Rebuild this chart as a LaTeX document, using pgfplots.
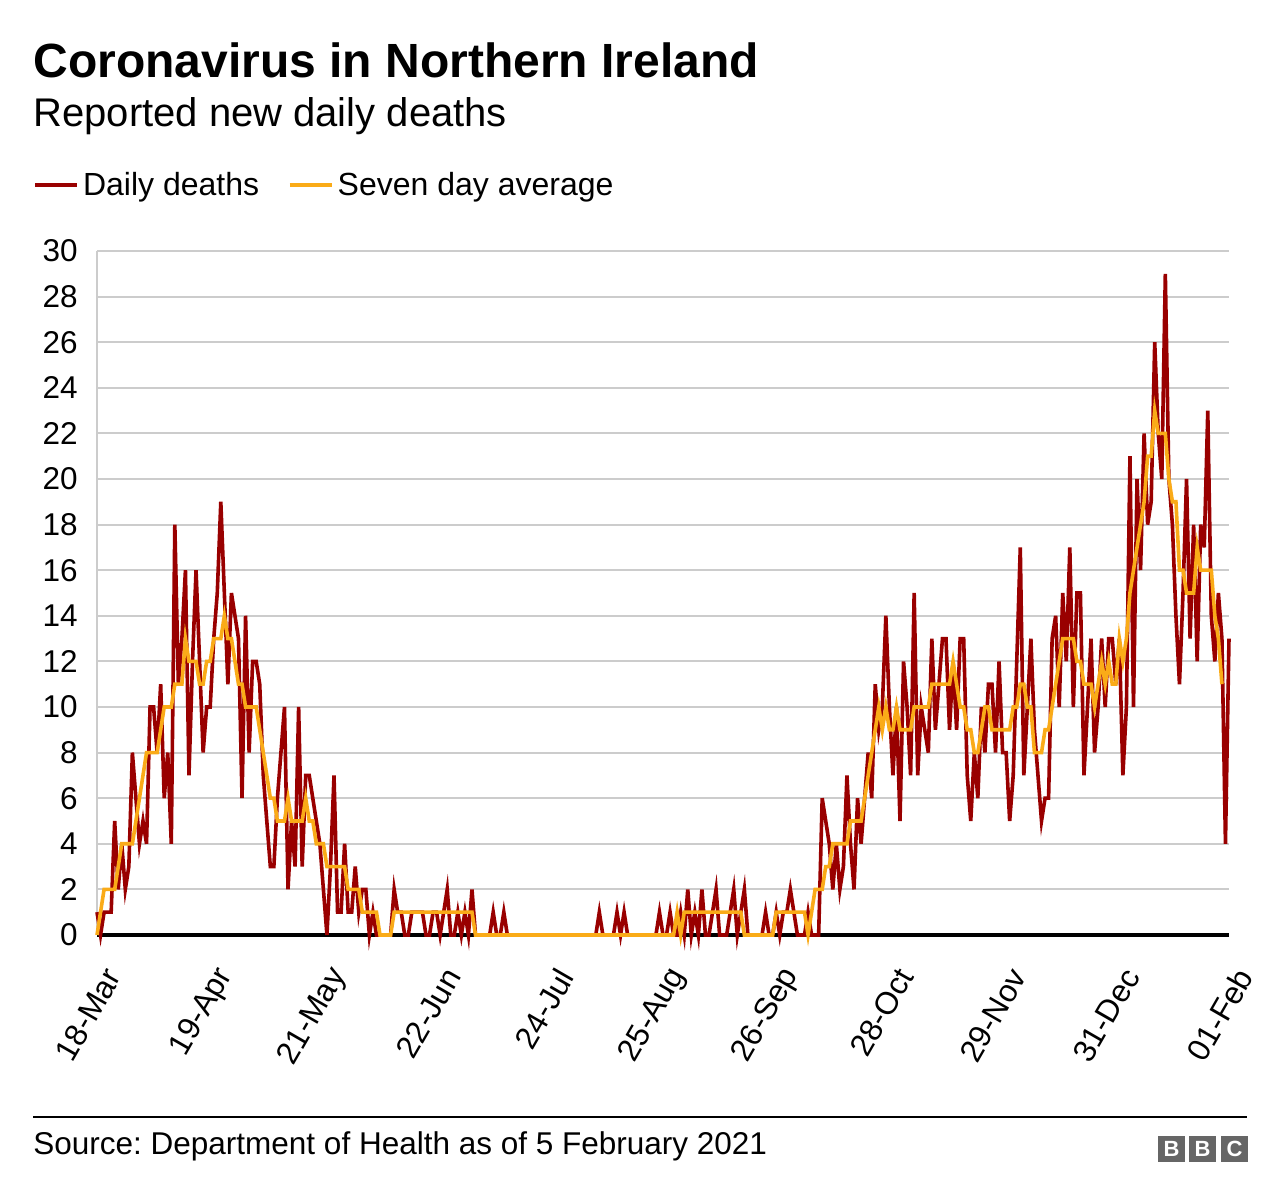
\documentclass[border=0pt]{standalone}
\usepackage{pgfplots}
\pgfplotsset{compat=1.18}
\usepackage{pgfplotstable}
\usepackage{fontspec}
\setmainfont{Liberation Sans}
\frenchspacing
\definecolor{bbcred}{RGB}{153,0,0}
\definecolor{bbcorange}{RGB}{250,171,24}
\definecolor{gridgray}{RGB}{204,204,204}
\definecolor{logogray}{RGB}{102,102,102}

% daily deaths, 18-Mar-2020 (index 0) to 01-Feb-2021 (index 320)
\pgfplotstableread[row sep=\\, header=false]{
1\\0\\1\\1\\1\\5\\2\\4\\2\\3\\
8\\6\\4\\5\\4\\10\\10\\8\\11\\6\\
8\\4\\18\\11\\13\\16\\7\\12\\16\\12\\
8\\10\\10\\13\\15\\19\\15\\11\\15\\14\\
13\\6\\14\\8\\12\\12\\11\\7\\5\\3\\
3\\6\\8\\10\\2\\5\\3\\10\\3\\7\\
7\\6\\5\\4\\2\\0\\3\\7\\1\\1\\
4\\1\\1\\3\\1\\2\\2\\0\\1\\0\\
0\\0\\0\\0\\2\\1\\1\\0\\0\\1\\
1\\1\\1\\0\\0\\1\\1\\0\\1\\2\\
0\\0\\1\\0\\1\\0\\2\\0\\0\\0\\
0\\0\\1\\0\\0\\1\\0\\0\\0\\0\\
0\\0\\0\\0\\0\\0\\0\\0\\0\\0\\
0\\0\\0\\0\\0\\0\\0\\0\\0\\0\\
0\\0\\1\\0\\0\\0\\0\\1\\0\\1\\
0\\0\\0\\0\\0\\0\\0\\0\\0\\1\\
0\\0\\1\\0\\0\\1\\0\\2\\0\\1\\
0\\2\\0\\0\\1\\2\\0\\0\\0\\1\\
2\\0\\1\\2\\0\\0\\0\\0\\0\\1\\
0\\0\\1\\0\\1\\1\\2\\1\\0\\0\\
0\\1\\0\\0\\0\\6\\5\\4\\2\\4\\
2\\3\\7\\4\\2\\6\\4\\6\\8\\6\\
11\\9\\10\\14\\10\\7\\10\\5\\12\\10\\
7\\15\\7\\10\\9\\8\\13\\9\\11\\13\\
13\\9\\12\\9\\13\\13\\7\\5\\8\\6\\
10\\8\\11\\11\\8\\12\\8\\8\\5\\7\\
12\\17\\7\\10\\13\\9\\7\\5\\6\\6\\
13\\14\\10\\15\\12\\17\\10\\15\\15\\7\\
10\\13\\8\\10\\13\\10\\13\\13\\11\\13\\
7\\10\\21\\10\\20\\16\\22\\18\\19\\26\\
22\\20\\29\\20\\18\\14\\11\\15\\20\\13\\
18\\12\\18\\17\\23\\14\\12\\15\\13\\4\\13\\
}\daily

% seven day average (index 0 to 318)
\pgfplotstableread[row sep=\\, header=false]{
0\\1\\2\\2\\2\\2\\3\\4\\4\\4\\
4\\5\\6\\7\\8\\8\\8\\8\\9\\10\\
10\\10\\11\\11\\11\\13\\12\\12\\12\\11\\
11\\12\\12\\13\\13\\13\\14\\13\\13\\12\\
11\\11\\10\\10\\10\\10\\9\\8\\7\\6\\
6\\5\\5\\5\\6\\5\\5\\5\\5\\6\\
5\\5\\4\\4\\4\\3\\3\\3\\3\\3\\
3\\2\\2\\2\\2\\1\\1\\1\\1\\1\\
0\\0\\0\\0\\1\\1\\1\\1\\1\\1\\
1\\1\\1\\1\\1\\1\\1\\1\\1\\1\\
1\\1\\1\\1\\1\\1\\1\\0\\0\\0\\
0\\0\\0\\0\\0\\0\\0\\0\\0\\0\\
0\\0\\0\\0\\0\\0\\0\\0\\0\\0\\
0\\0\\0\\0\\0\\0\\0\\0\\0\\0\\
0\\0\\0\\0\\0\\0\\0\\0\\0\\0\\
0\\0\\0\\0\\0\\0\\0\\0\\0\\0\\
0\\0\\0\\0\\1\\0\\1\\1\\1\\1\\
1\\1\\1\\1\\1\\1\\1\\1\\1\\1\\
1\\1\\1\\0\\0\\0\\0\\0\\0\\0\\
0\\0\\1\\1\\1\\1\\1\\1\\1\\1\\
1\\0\\1\\2\\2\\2\\3\\3\\4\\4\\
4\\4\\4\\5\\5\\5\\5\\6\\7\\8\\
9\\10\\9\\10\\9\\9\\10\\9\\9\\9\\
9\\10\\10\\10\\10\\10\\11\\11\\11\\11\\
11\\11\\12\\11\\10\\10\\9\\9\\8\\8\\
9\\10\\10\\9\\9\\9\\9\\9\\9\\10\\
10\\11\\11\\10\\10\\8\\8\\8\\9\\9\\
10\\11\\12\\13\\13\\13\\13\\12\\12\\11\\
11\\11\\10\\11\\12\\11\\12\\11\\11\\13\\
12\\13\\15\\16\\17\\18\\19\\21\\21\\23\\
22\\22\\22\\20\\19\\19\\16\\16\\15\\15\\
15\\17\\16\\16\\16\\16\\14\\13\\11\\
}\avg

\begin{document}
\begin{tikzpicture}
\useasboundingbox (0pt,0pt) rectangle (640pt,602pt);
\begin{axis}[
  at={(48.5pt,134.5pt)}, anchor=south west,
  scale only axis, width=566pt, height=342pt,
  xmin=0, xmax=320, ymin=0, ymax=30,
  clip=false,
  axis x line*=bottom, axis y line*=left,
  x axis line style={black, line width=1.75pt, -},
  y axis line style={gridgray, line width=1pt, -},
  xtick={0,32,...,320},
  xticklabels={18-Mar,19-Apr,21-May,22-Jun,24-Jul,25-Aug,26-Sep,28-Oct,29-Nov,31-Dec,01-Feb},
  ytick={0,2,...,30},
  ymajorgrids, major grid style={gridgray, line width=1pt},
  major tick length=0pt,
  tick label style={font=\fontsize{15.75pt}{19pt}\selectfont},
  /pgf/number format/assume math mode=true,
  yticklabel style={anchor=east, inner sep=0pt, xshift=-9.5pt},
  xticklabel style={xshift=8pt, yshift=-18pt, rotate=60, anchor=east, inner sep=0pt},
  legend columns=2,
  legend style={at={(axis description cs:-0.0565,1.0965)}, anchor=west,
    draw=none, fill=none, inner sep=0pt,
    font=\fontsize{16pt}{19pt}\selectfont,
    /tikz/every even column/.append style={column sep=12.5pt}},
  legend image code/.code={\path (0pt,0pt) -- (21pt,0pt);\draw[#1, line width=1.5pt] (0pt,0pt) -- (18.5pt,0pt);},
]
\addplot[bbcred, line width=1.8pt, line join=miter, mark=none]
  table[x expr=\coordindex, y index=0] {\daily};
\addlegendentry{Daily deaths}
\addplot[bbcorange, line width=1.8pt, line join=miter, mark=none]
  table[x expr=\coordindex, y index=0] {\avg};
\addlegendentry{Seven day average}
\end{axis}

\node[anchor=base west, inner sep=0pt] at (16.5pt,563pt)
  {\fontsize{24pt}{28pt}\selectfont\bfseries Coronavirus in Northern Ireland};
\node[anchor=base west, inner sep=0pt] at (16.5pt,538.5pt)
  {\fontsize{20pt}{24pt}\selectfont Reported new daily deaths};

\draw[black, line width=1pt] (16.5pt,43.5pt) -- (623.5pt,43.5pt);
\node[anchor=base west, inner sep=0pt] at (16.5pt,24.5pt)
  {\fontsize{15.75pt}{19pt}\selectfont Source: Department of Health as of 5 February 2021};

\fill[logogray] (579pt,21pt) rectangle (592.5pt,34pt);
\fill[logogray] (594.5pt,21pt) rectangle (608pt,34pt);
\fill[logogray] (610.5pt,21pt) rectangle (624pt,34pt);
\node[white, inner sep=0pt] at (585.75pt,27.5pt) {\fontsize{11pt}{11pt}\selectfont\bfseries B};
\node[white, inner sep=0pt] at (601.25pt,27.5pt) {\fontsize{11pt}{11pt}\selectfont\bfseries B};
\node[white, inner sep=0pt] at (617.25pt,27.5pt) {\fontsize{11pt}{11pt}\selectfont\bfseries C};
\end{tikzpicture}
\end{document}
